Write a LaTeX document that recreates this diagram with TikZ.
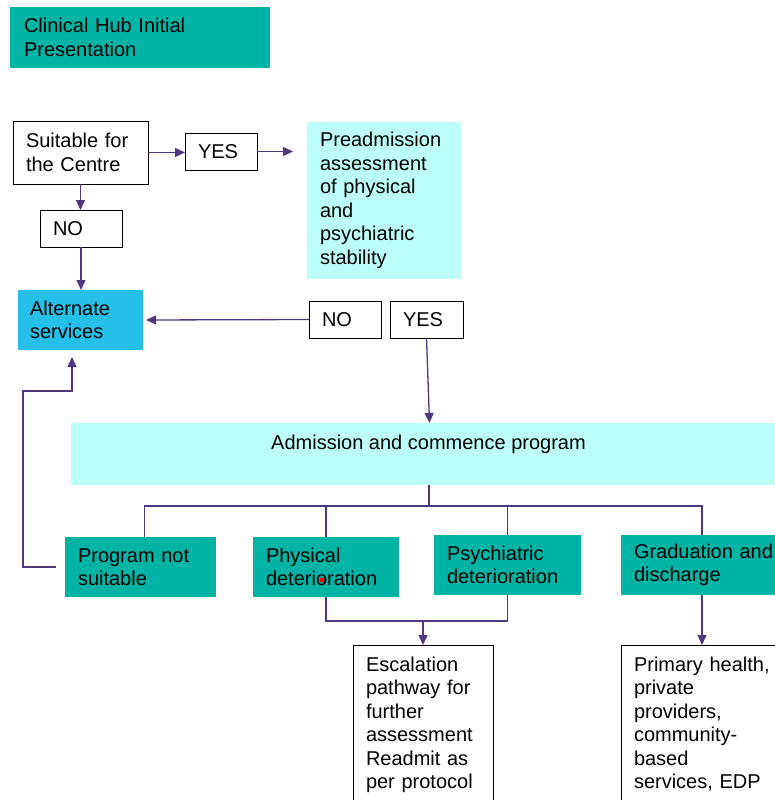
\documentclass[tikz,border=0pt]{standalone}
\usepackage{fontspec}
\setmainfont{Liberation Sans}
\usetikzlibrary{arrows.meta}
\definecolor{teal1}{RGB}{0,180,165}
\definecolor{cyan1}{RGB}{188,255,248}
\definecolor{blue1}{RGB}{36,192,232}
\definecolor{lin}{RGB}{80,55,130}
\begin{document}
\begin{tikzpicture}[x=1pt,y=-1pt, font=\fontsize{20}{23.5}\selectfont,
 bx/.style={anchor=north west, inner xsep=13pt, inner ysep=0pt, align=left, outer sep=0pt},
 wb/.style={bx, draw=black, line width=1pt, fill=white},
 tb/.style={bx, fill=teal1},
 line/.style={draw=lin, line width=1.3pt},
 arr/.style={line, -{Triangle[length=10pt,width=9pt]}}]
\useasboundingbox (0,0) rectangle (775,800);
% nodes
\node[tb, minimum height=61pt, text width=232pt, inner xsep=14pt] (hub) at (10,7) {Clinical Hub Initial\\Presentation};
\node[wb, minimum height=63pt, text width=109pt] (suit) at (13,121) {Suitable for\\the Centre};
\node[wb, minimum height=37pt, text width=46pt] (yes1) at (185,133) {YES};
\node[bx, fill=cyan1, minimum height=157pt, text width=128pt] (pre) at (307,122) {Preadmission\\assessment\\of physical\\and\\psychiatric\\stability};
\node[wb, minimum height=37pt, text width=56pt] (no1) at (40,210) {NO};
\node[bx, fill=blue1, minimum height=60pt, text width=101pt, inner xsep=12pt] (alt) at (18,290) {Alternate\\services};
\node[wb, minimum height=37pt, text width=46pt] (no2) at (309,301) {NO};
\node[wb, minimum height=37pt, text width=47pt] (yes2) at (390,301) {YES};
\node[bx, fill=cyan1, minimum height=62pt, text width=683pt] (adm) at (71,423) {};
\node[anchor=base] (admtxt) at (428.5,449.5) {Admission and commence program};
\node[tb, minimum height=60pt, text width=125pt] (prog) at (65,537) {Program not\\suitable};
\node[tb, minimum height=60pt, text width=120pt] (phys) at (253,537) {Physical\\deterioration};
\node[tb, minimum height=60pt, text width=121pt] (psy) at (434,535) {Psychiatric\\deterioration};
\node[tb, minimum height=60pt, text width=136pt] (grad) at (621,535) {\mbox{Graduation and}\\discharge};
\node[wb, inner ysep=11.5pt, text width=114pt] (esc) at (353,645) {Escalation\\pathway for\\further\\assessment\\Readmit as\\per protocol\rule[-20pt]{0pt}{20pt}};
\node[wb, inner ysep=11.5pt, text width=144pt] (prim) at (621,645) {Primary health,\\private\\providers,\\community-\\based\\services, EDP\rule[-20pt]{0pt}{20pt}};
% connectors
\draw[arr] (suit.east) -- (suit.east -| yes1.west);
\draw[arr] (yes1.east) -- ([xshift=-14pt]pre.west |- yes1.east);
\draw[arr] (suit.south) -- (suit.south |- no1.north);
\draw[arr] (no1.south) -- (no1.south |- alt.north);
\draw[arr] (no2.west) -- ([xshift=3pt]alt.east);
\draw[arr] (yes2.south) -- ([xshift=3pt]yes2.south |- adm.north);
\coordinate (bus) at (429,506);
\draw[line] (adm.south -| bus) -- (bus);
\draw[line] ([xshift=4pt]prog.north) |- (bus) -| (grad.north);
\draw[line] (phys.north) -- (phys.north |- bus);
\draw[line] (psy.north) -- (psy.north |- bus);
\coordinate (ret) at (23,391);
\draw[arr] ([xshift=-9pt]prog.west) -| (ret) -| ([xshift=-8.5pt,yshift=-7pt]alt.south);
\coordinate (merge) at ([yshift=24pt]esc.north);
\draw[line] (phys.south) |- (merge);
\draw[line] (psy.south) |- (merge);
\draw[arr] (merge) -- (esc.north);
\draw[arr] (grad.south) -- (grad.south |- prim.north);
\fill[red] (322,580) circle (2.5pt);
\end{tikzpicture}
\end{document}
